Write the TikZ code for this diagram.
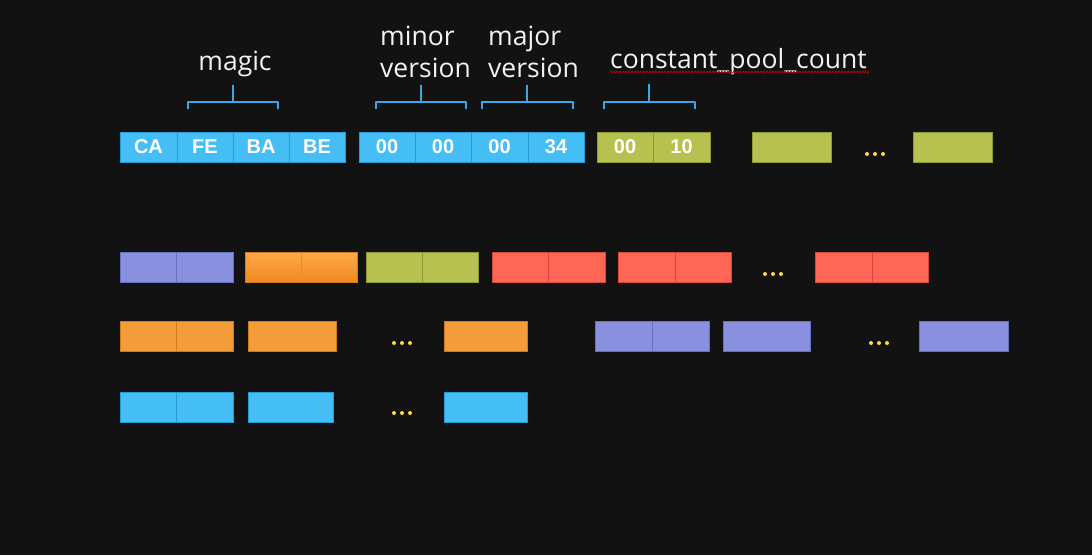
\documentclass[tikz,border=0pt]{standalone}
\usepackage{fontspec}
\setmainfont{Open Sans}
\newfontfamily\boxfont{Liberation Sans}
\usetikzlibrary{decorations.pathmorphing,calc}
\definecolor{bg}{HTML}{121212}
\definecolor{bluef}{HTML}{45BDF5}
\definecolor{blued}{HTML}{2A98D4}
\definecolor{greenf}{HTML}{B7C150}
\definecolor{greend}{HTML}{8E9834}
\definecolor{purplef}{HTML}{8890DF}
\definecolor{purpled}{HTML}{6870C2}
\definecolor{orangef}{HTML}{F59C3A}
\definecolor{oranged}{HTML}{D27A1E}
\definecolor{orangetop}{HTML}{FFA848}
\definecolor{orangebot}{HTML}{F08A22}
\definecolor{redf}{HTML}{FF6655}
\definecolor{redd}{HTML}{D4493A}
\definecolor{bracec}{HTML}{3AA8E8}
\definecolor{dotc}{HTML}{FFD83A}
\definecolor{labc}{HTML}{F2F2F2}
\tikzset{
  cell/.style={draw, line width=0.9pt, minimum height=30pt, inner sep=0pt, outer sep=0pt,
    font=\boxfont\bfseries\fontsize{20}{20}\selectfont, text=white},
  bluec/.style={fill=bluef, draw=blued},
  greenc/.style={fill=greenf, draw=greend},
  purplec/.style={fill=purplef, draw=purpled},
  orangec/.style={fill=orangef, draw=oranged},
  redc/.style={fill=redf, draw=redd},
  bracestyle/.style={draw=bracec, line width=2pt, line join=round},
  lab/.style={font=\fontsize{26.5}{26.5}\selectfont, text=labc, inner sep=0pt},
  dotstyle/.style={fill=dotc},
}
\newcommand\mycell[6]{\node[cell,#5,minimum width={(#3-#2)*1pt}] (#1) at ({(#2+#3)/2},{#4+15}) {#6};}
\newcommand\mydots[3]{\coordinate (#1) at (#2,#3);
  \foreach \dx in {-8,0,8} {\fill[dotstyle] ($(#1)+(\dx,0)$) circle (2pt);}}
\begin{document}
\begin{tikzpicture}[x=1pt,y=-1pt]
\fill[bg] (0,0) rectangle (1092,555);
\useasboundingbox (0,0) rectangle (1092,555);

% row 1
\mycell{ca}{120}{177}{132}{bluec}{CA}
\mycell{fe}{177}{233}{132}{bluec}{FE}
\mycell{ba}{233}{289}{132}{bluec}{BA}
\mycell{be}{289}{345}{132}{bluec}{BE}
\mycell{v1}{359}{415}{132}{bluec}{00}
\mycell{v2}{415}{471}{132}{bluec}{00}
\mycell{v3}{471}{528}{132}{bluec}{00}
\mycell{v4}{528}{584}{132}{bluec}{34}
\mycell{c1}{597}{653}{132}{greenc}{00}
\mycell{c2}{653}{710}{132}{greenc}{10}
\mycell{g1}{752}{831}{132}{greenc}{}
\mydots{dA}{875}{154}
\mycell{g2}{913}{992}{132}{greenc}{}

% braces
\draw[bracestyle] (188,109) -- (188,102) -- (278,102) -- (278,109) (233,102) -- (233,85);
\draw[bracestyle] (376,109) -- (376,102) -- (466,102) -- (466,109) (421,102) -- (421,85);
\draw[bracestyle] (482,109) -- (482,102) -- (573,102) -- (573,109) (527,102) -- (527,85);
\draw[bracestyle] (604,109) -- (604,102) -- (695,102) -- (695,109) (649,102) -- (649,84);

% labels
\node[lab, anchor=base] (lmagic) at (235,70) {magic};
\node[lab, anchor=base west] (lminor) at (380,45) {minor};
\node[lab, anchor=base west] (lminorv) at (380,77) {version};
\node[lab, anchor=base west] (lmajor) at (488,45) {major};
\node[lab, anchor=base west] (lmajorv) at (488,77) {version};
\node[lab, anchor=base west] (lcount) at (610,68) {constant\_pool\_count};
\draw[red!80!black, line width=0.7pt, decorate, decoration={snake, amplitude=0.9pt, segment length=3pt}]
  (610,72) -- (869,72);

% row 2
\mycell{p1}{120}{176}{252}{purplec}{}
\mycell{p2}{176}{233}{252}{purplec}{}
\node[cell, draw=oranged, top color=orangetop, bottom color=orangebot,
  minimum width=112pt] (ob) at (301,267) {};
\draw[orangebot, line width=0.5pt] (ob.north) -- (ob.south);
\mycell{gr1}{366}{422}{252}{greenc}{}
\mycell{gr2}{422}{478}{252}{greenc}{}
\mycell{r1}{492}{548}{252}{redc}{}
\mycell{r2}{548}{605}{252}{redc}{}
\mycell{r3}{618}{675}{252}{redc}{}
\mycell{r4}{675}{731}{252}{redc}{}
\mydots{dB}{773}{274}
\mycell{r5}{815}{872}{252}{redc}{}
\mycell{r6}{872}{928}{252}{redc}{}

% row 3
\mycell{o1}{120}{176}{321}{orangec}{}
\mycell{o2}{176}{233}{321}{orangec}{}
\mycell{o3}{248}{336}{321}{orangec}{}
\mydots{dC}{402}{343}
\mycell{o4}{444}{527}{321}{orangec}{}
\mycell{q1}{595}{652}{321}{purplec}{}
\mycell{q2}{652}{709}{321}{purplec}{}
\mycell{q3}{723}{810}{321}{purplec}{}
\mydots{dD}{879}{343}
\mycell{q4}{919}{1008}{321}{purplec}{}

% row 4
\mycell{b1}{120}{176}{392}{bluec}{}
\mycell{b2}{176}{233}{392}{bluec}{}
\mycell{b3}{248}{333}{392}{bluec}{}
\mydots{dE}{402}{413}
\mycell{b4}{444}{527}{392}{bluec}{}
\end{tikzpicture}
\end{document}
